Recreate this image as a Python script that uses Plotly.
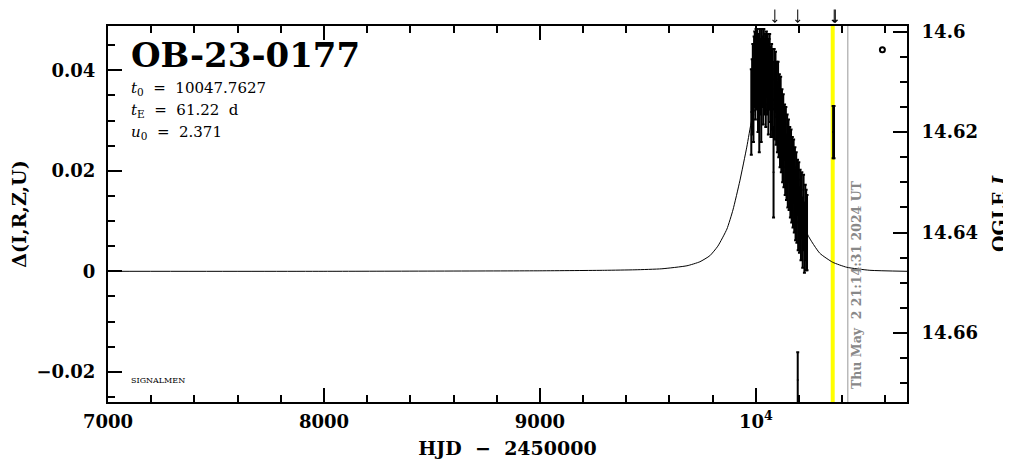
import plotly.graph_objects as go

# ---------------- data ----------------
# OGLE I photometry (HJD-2450000, mag, err)
obs_t = [9979, 9983, 9986, 9989, 9992, 9995, 9998, 10001, 10004, 10007, 10010, 10013,
         10016, 10019, 10022, 10025, 10028, 10031, 10034, 10037, 10040, 10043, 10046,
         10049, 10052, 10055, 10058, 10061, 10064, 10067, 10070, 10073, 10076, 10079,
         10082, 10085, 10088, 10091, 10094, 10097, 10100, 10103, 10106, 10109, 10112,
         10115, 10118, 10121, 10124, 10127, 10130, 10133, 10136, 10139, 10142, 10145,
         10148, 10151, 10154, 10157, 10160, 10163, 10166, 10169, 10172, 10175, 10178,
         10181, 10184, 10187, 10190, 10193, 10196, 10199, 10202, 10205, 10209, 10213,
         10217, 10221, 10225, 10229, 10233, 10237]
obs_mag = [14.6160, 14.6130, 14.6095, 14.6140, 14.6080, 14.6065, 14.6100, 14.6060,
           14.6085, 14.6055, 14.6120, 14.6070, 14.6150, 14.6065, 14.6090, 14.6135,
           14.6060, 14.6080, 14.6105, 14.6060, 14.6090, 14.6075, 14.6110, 14.6065,
           14.6095, 14.6080, 14.6120, 14.6085, 14.6070, 14.6105, 14.6130, 14.6095,
           14.6115, 14.6135, 14.6280, 14.6095, 14.6145, 14.6100, 14.6160, 14.6115,
           14.6170, 14.6120, 14.6185, 14.6140, 14.6200, 14.6150, 14.6215, 14.6170,
           14.6230, 14.6185, 14.6245, 14.6200, 14.6255, 14.6210, 14.6270, 14.6220,
           14.6280, 14.6235, 14.6290, 14.6245, 14.6300, 14.6255, 14.6315, 14.6265,
           14.6320, 14.6275, 14.6335, 14.6285, 14.6345, 14.6300, 14.6355, 14.6310,
           14.6365, 14.6320, 14.6375, 14.6335, 14.6385, 14.6345, 14.6400, 14.6360,
           14.6410, 14.6380, 14.6395, 14.6400]
obs_err = [0.0085, 0.0075, 0.0070, 0.0080, 0.0070, 0.0065, 0.0075, 0.0065, 0.0070,
           0.0060, 0.0080, 0.0065, 0.0090, 0.0070, 0.0075, 0.0085, 0.0065, 0.0070,
           0.0080, 0.0065, 0.0075, 0.0070, 0.0080, 0.0065, 0.0070, 0.0075, 0.0085,
           0.0070, 0.0065, 0.0075, 0.0080, 0.0070, 0.0080, 0.0075, 0.0090, 0.0060,
           0.0070, 0.0060, 0.0065, 0.0055, 0.0070, 0.0060, 0.0065, 0.0055, 0.0070,
           0.0060, 0.0065, 0.0055, 0.0070, 0.0060, 0.0065, 0.0055, 0.0070, 0.0060,
           0.0065, 0.0055, 0.0070, 0.0060, 0.0065, 0.0055, 0.0070, 0.0060, 0.0065,
           0.0055, 0.0070, 0.0060, 0.0065, 0.0055, 0.0070, 0.0060, 0.0065, 0.0055,
           0.0070, 0.0060, 0.0065, 0.0060, 0.0070, 0.0065, 0.0070, 0.0075, 0.0070,
           0.0075, 0.0080, 0.0075]

# isolated points
late_t = [10358, 10362]
late_mag = [14.6200, 14.6200]
late_err = [0.0052, 0.0052]
faint_t = [10194]
faint_mag = [14.6693]
faint_err = [0.0055]

# symbol in the upper right corner
sym_t = [10586]
sym_mag = [14.6036]

# model curve, delta units
model_t = [7000, 8000, 9000, 9300, 9440, 9565, 9681, 9741, 9787, 9824, 9866, 9894,
           9926, 9958, 9981, 10010, 10048, 10085, 10114, 10138, 10170, 10201, 10241,
           10296, 10356, 10421, 10528, 10700]
model_d = [0.0, 0.0, 0.0001, 0.0002, 0.0003, 0.0005, 0.0011, 0.0019, 0.0031, 0.0050,
           0.0084, 0.0122, 0.0180, 0.0247, 0.0301, 0.0340, 0.0355, 0.0340, 0.0301,
           0.0247, 0.0181, 0.0127, 0.0072, 0.0036, 0.0018, 0.0008, 0.0002, 0.0]

# event markers
arrow_t = [10088, 10194, 10363, 10368]
now_t = 10356
date_t = 10426
date_text = "Thu May\u00a0\u00a02 21:14:31 2024 UT"

# axis ticks
x_tickvals = [7000, 8000, 9000, 10000]
x_ticktext = ["7000", "8000", "9000", "10<sup>4</sup>"]
y_tickvals = [-0.02, 0, 0.02, 0.04]
y_ticktext = ["\u22120.02", "0", "0.02", "0.04"]
y2_tickvals = [14.6, 14.62, 14.64, 14.66]
y2_ticktext = ["14.6", "14.62", "14.64", "14.66"]

event_name = "OB-23-0177"
params = ["<i>t</i><sub>0</sub> \u00a0=\u00a0 10047.7627",
          "<i>t</i><sub>E</sub> \u00a0=\u00a0 61.22 \u00a0d",
          "<i>u</i><sub>0</sub> \u00a0=\u00a0 2.371"]

# ---------------- figure ----------------
FONT = "DejaVu Serif"
fig = go.Figure()

fig.add_trace(go.Scatter(x=model_t, y=model_d, mode="lines",
                         line=dict(color="black", width=1, shape="spline", smoothing=0.5),
                         yaxis="y", showlegend=False, hoverinfo="skip"))

errstyle = dict(type="data", visible=True, color="black", thickness=2, width=1.5)
for xs, ys, es in [(obs_t, obs_mag, obs_err), (late_t, late_mag, late_err),
                   (faint_t, faint_mag, faint_err)]:
    fig.add_trace(go.Scatter(x=xs, y=ys, mode="markers",
                             marker=dict(color="black", size=2),
                             error_y=dict(array=es, **errstyle),
                             yaxis="y2", showlegend=False))
fig.add_trace(go.Scatter(x=sym_t, y=sym_mag, mode="markers",
                         marker=dict(symbol="circle-open", color="black", size=5,
                                     line=dict(width=2)),
                         yaxis="y2", showlegend=False))

fig.add_shape(type="line", xref="x", yref="paper", x0=now_t, x1=now_t, y0=0, y1=1,
              line=dict(color="#ffff00", width=4), layer="below")
fig.add_shape(type="line", xref="x", yref="paper", x0=date_t, x1=date_t, y0=0, y1=1,
              line=dict(color="#999999", width=1), layer="below")

annotations = []
for t in arrow_t:
    annotations.append(dict(x=t, y=1.008, xref="x", yref="paper", text="",
                            showarrow=True, ax=0, ay=-22, arrowhead=4,
                            arrowsize=0.9, arrowwidth=1, arrowcolor="black"))
annotations.append(dict(x=10463, y=0.03, xref="x", yref="paper", text=date_text,
                        textangle=-90, showarrow=False, xanchor="center", yanchor="bottom",
                        font=dict(family=FONT, size=12.5, color="#888888", weight="bold")))
annotations.append(dict(x=0.026, y=0.923, xref="paper", yref="paper", text=event_name,
                        showarrow=False, xanchor="left", yanchor="middle",
                        font=dict(family=FONT, size=34, color="black", weight="bold")))
for i, p in enumerate(params):
    annotations.append(dict(x=0.026, y=0.835 - i * 0.0585, xref="paper", yref="paper",
                            text=p, showarrow=False, xanchor="left", yanchor="middle",
                            font=dict(family=FONT, size=15, color="black")))
annotations.append(dict(x=0.026, y=0.058, xref="paper", yref="paper", text="SIGNALMEN",
                        showarrow=False, xanchor="left", yanchor="middle",
                        font=dict(family=FONT, size=8, color="black")))

axfont = dict(family=FONT, size=18, color="black", weight="bold")
titlefont = dict(family=FONT, size=19, color="black", weight="bold")
# the page places the figure 8 px from the window's top-left corner
fig.update_layout(
    width=1003, height=451,
    margin=dict(l=100, r=104, t=18, b=57, autoexpand=False),
    font=dict(family=FONT, color="black"),
    plot_bgcolor="white", paper_bgcolor="white",
    annotations=annotations,
    xaxis=dict(range=[7000, 10700], showgrid=False, zeroline=False, automargin=False,
               showline=True, linecolor="black", linewidth=2, mirror="ticks",
               ticks="inside", ticklen=14, tickwidth=2, tickcolor="black",
               tickvals=x_tickvals, ticktext=x_ticktext, tickfont=axfont,
               ticklabelstandoff=2,
               minor=dict(ticks="inside", ticklen=7, tickwidth=1.5, dtick=200,
                          tick0=7000, tickcolor="black", showgrid=False),
               title=dict(text="HJD\u00a0\u00a0\u2212\u00a0\u00a02450000", font=titlefont,
                          standoff=11)),
    yaxis=dict(range=[-0.026, 0.0488], showgrid=False, zeroline=False, automargin=False,
               showline=True, linecolor="black", linewidth=2,
               ticks="inside", ticklen=14, tickwidth=2, tickcolor="black",
               tickvals=y_tickvals, ticktext=y_ticktext, tickfont=axfont,
               ticklabelstandoff=7,
               minor=dict(ticks="inside", ticklen=7, tickwidth=1.5, dtick=0.005,
                          tick0=0, tickcolor="black", showgrid=False),
               title=dict(text="\u0394(I,R,Z,U)", font=titlefont, standoff=12)),
    yaxis2=dict(range=[14.6737, 14.5989], overlaying="y", side="right",
                showgrid=False, zeroline=False, automargin=False,
                showline=True, linecolor="black", linewidth=2,
                ticks="inside", ticklen=14, tickwidth=2, tickcolor="black",
                tickvals=y2_tickvals, ticktext=y2_ticktext, tickfont=axfont,
                ticklabelstandoff=9,
                minor=dict(ticks="inside", ticklen=7, tickwidth=1.5, dtick=0.005,
                           tick0=14.6, tickcolor="black", showgrid=False),
                title=dict(text="OGLE <i>I</i>", font=titlefont, standoff=16)),
)

fig.write_html("out.html")
